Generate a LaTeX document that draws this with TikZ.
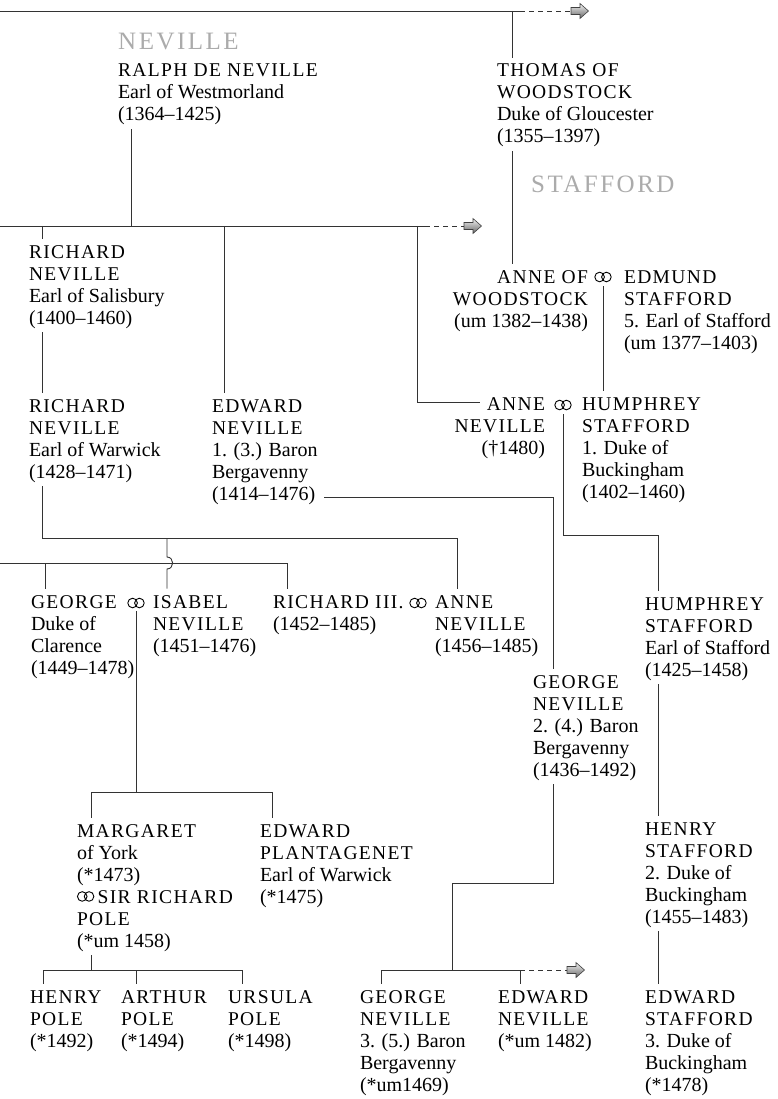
\documentclass[tikz,border=0pt]{standalone}
\usepackage{fontspec}
\setmainfont{Liberation Serif}
\newfontfamily\namefont[LetterSpace=7]{Liberation Serif}
\newfontfamily\housefont[LetterSpace=10]{Liberation Serif}

\newcommand\nm[1]{{\namefont\fontsize{19.5}{22}\selectfont\strut #1}}
\newcommand\ringsym{\tikz\draw[line width=.9pt] (0,0) circle (4.8pt) (6.8pt,0) circle (4.8pt);}
\newcommand\fatarrow[1]{\shade[arrowfill] (#1) ++(0,-3.5) -- ++(9,0) -- ++(0,-4) -- ++(8.5,7.5)
  -- ++(-8.5,7.5) -- ++(0,-4) -- ++(-9,0) -- cycle;}

\tikzset{
  person/.style={anchor=north west, align=left, inner xsep=0pt, inner ysep=4pt,
    outer sep=0pt, yshift=19.4pt, font=\fontsize{20}{22}\selectfont, text=black},
  personr/.style={person, anchor=north east, align=right},
  house/.style={anchor=base west, inner sep=0pt, font=\housefont\fontsize{25}{28}\selectfont, text=black!33},
  marr/.style={inner sep=0pt},
  line/.style={black!80, line width=0.9pt},
  ext/.style={line, dash pattern=on 5pt off 4pt},
  arrowfill/.style={top color=black!5, bottom color=black!60, draw=black!75, line width=0.6pt},
}

\begin{document}
\begin{tikzpicture}[x=1pt,y=-1pt]
\useasboundingbox (0,0) rectangle (778,1099);

\node[house] (neville) at (118,50) {NEVILLE};
\node[house] (stafford) at (531,193) {STAFFORD};

\node[person] (ralph) at (118,77) {\nm{RALPH DE NEVILLE}\\Earl of Westmorland\\(1364–1425)};
\node[person] (thomas) at (497,77) {\nm{THOMAS OF}\\\nm{WOODSTOCK}\\Duke of Gloucester\\(1355–1397)};
\node[person] (richS) at (29,258) {\nm{RICHARD}\\\nm{NEVILLE}\\Earl of Salisbury\\(1400–1460)};
\node[person] (richW) at (29,412) {\nm{RICHARD}\\\nm{NEVILLE}\\Earl of Warwick\\(1428–1471)};
\node[person] (edw1) at (212,412) {\nm{EDWARD}\\\nm{NEVILLE}\\1. (3.) Baron\\Bergavenny\\(1414–1476)};
\node[personr] (anneW) at (588,283) {\nm{ANNE OF}\\\nm{WOODSTOCK}\\(um 1382–1438)};
\node[person] (edmund) at (624,283) {\nm{EDMUND}\\\nm{STAFFORD}\\5. Earl of Stafford\\(um 1377–1403)};
\node[personr] (anneN) at (545,410) {\nm{ANNE}\\\nm{NEVILLE}\\(†1480)};
\node[person] (humph1) at (582,410) {\nm{HUMPHREY}\\\nm{STAFFORD}\\1. Duke of\\Buckingham\\(1402–1460)};
\node[person] (george) at (31,608) {\nm{GEORGE}\\Duke of\\Clarence\\(1449–1478)};
\node[person] (isabel) at (153,608) {\nm{ISABEL}\\\nm{NEVILLE}\\(1451–1476)};
\node[person] (rich3) at (273,608) {\nm{RICHARD III.}\\(1452–1485)};
\node[person] (anneN2) at (435,608) {\nm{ANNE}\\\nm{NEVILLE}\\(1456–1485)};
\node[person] (humph2) at (645,610) {\nm{HUMPHREY}\\\nm{STAFFORD}\\Earl of Stafford\\(1425–1458)};
\node[person] (georgeN2) at (533,688) {\nm{GEORGE}\\\nm{NEVILLE}\\2. (4.) Baron\\Bergavenny\\(1436–1492)};
\node[person] (margaret) at (77,837) {\nm{MARGARET}\\of York\\(*1473)\\\raisebox{1.3pt}{\ringsym}\,\nm{SIR RICHARD}\\\nm{POLE}\\(*um 1458)};
\node[person] (edwP) at (260,837) {\nm{EDWARD}\\\nm{PLANTAGENET}\\Earl of Warwick\\(*1475)};
\node[person] (henryS) at (645,835) {\nm{HENRY}\\\nm{STAFFORD}\\2. Duke of\\Buckingham\\(1455–1483)};
\node[person] (henryP) at (30,1003) {\nm{HENRY}\\\nm{POLE}\\(*1492)};
\node[person] (arthur) at (121,1003) {\nm{ARTHUR}\\\nm{POLE}\\(*1494)};
\node[person] (ursula) at (228,1003) {\nm{URSULA}\\\nm{POLE}\\(*1498)};
\node[person] (georgeN3) at (360,1003) {\nm{GEORGE}\\\nm{NEVILLE}\\3. (5.) Baron\\Bergavenny\\(*um1469)};
\node[person] (edwN) at (498,1003) {\nm{EDWARD}\\\nm{NEVILLE}\\(*um 1482)};
\node[person] (edwS) at (645,1003) {\nm{EDWARD}\\\nm{STAFFORD}\\3. Duke of\\Buckingham\\(*1478)};

\node[marr] (m1) at (603,277) {\ringsym};
\node[marr] (m2) at (563,405) {\ringsym};
\node[marr] (m3) at (136,603) {\ringsym};
\node[marr] (m4) at (418,603) {\ringsym};

\coordinate (arr1) at (571,11);
\coordinate (arr2) at (464,226);
\coordinate (arr3) at (567,970);
\fatarrow{arr1}
\fatarrow{arr2}
\fatarrow{arr3}

\coordinate (t0) at (0,11);
\coordinate (t1) at (520,11);
\coordinate (tT) at (512,11);
\coordinate (n0) at (0,226);
\coordinate (n1) at (425,226);
\coordinate (nR) at (131,226);
\coordinate (nA) at (42,226);
\coordinate (nE) at (224,226);
\coordinate (nN) at (417,226);
\coordinate (nN2) at (417,402);
\coordinate (nN3) at (480,402);
\coordinate (hb) at (563,535);
\coordinate (hc) at (658,535);
\coordinate (eb1) at (324,497);
\coordinate (eb2) at (553,497);
\coordinate (wb0) at (42,538);
\coordinate (wb1) at (457,538);
\coordinate (wI) at (167,538);
\coordinate (jmp1) at (167,557);
\coordinate (jmp2) at (167,569);
\coordinate (yb0) at (0,563);
\coordinate (yb1) at (287,563);
\coordinate (yG) at (45,563);
\coordinate (cb0) at (91,792);
\coordinate (cb1) at (272,792);
\coordinate (gb0) at (553,883);
\coordinate (gb1) at (452,883);
\coordinate (gb2) at (452,970);
\coordinate (gl) at (381,970);
\coordinate (gr) at (520,970);
\coordinate (pb) at (91,970);
\coordinate (pl) at (43,970);
\coordinate (pm) at (136,970);
\coordinate (pr) at (242,970);

\draw[line] (t0) -- (t1);
\draw[ext] (t1) -- (arr1);
\draw[line] (tT) -- (thomas.north -| tT);
\draw[line] (thomas.south -| tT) -- (anneW.north -| tT);

\draw[line] (ralph.south -| nR) -- (nR);
\draw[line] (n0) -- (n1);
\draw[ext] (n1) -- (arr2);
\draw[line] (nA) -- (richS.north -| nA);
\draw[line] (nE) -- (edw1.north -| nE);
\draw[line] (nN) -- (nN2) -- (nN3);

\draw[line, shorten <=4pt] (m1.south) -- (m1.south |- humph1.north);
\draw[line, shorten <=4pt] (m2.south) -- (hb) -- (hc) -- (humph2.north -| hc);
\draw[line] (eb1) -- (eb2) -- (georgeN2.north -| eb2);

\draw[line] (richS.south -| nA) -- (richW.north -| nA);
\draw[line] (richW.south -| wb0) -- (wb0) -- (wb1) -- (anneN2.north -| wb1);
\draw[line] (yb0) -- (yb1) -- (rich3.north -| yb1);
\draw[line] (yG) -- (george.north -| yG);
\draw[line] (wI) -- (jmp1) .. controls (174.5,557) and (174.5,569) .. (jmp2) -- (isabel.north -| wI);

\draw[line, shorten <=3pt] (m3.south) -- (m3.south |- cb0);
\draw[line] (margaret.north -| cb0) -- (cb0) -- (cb1) -- (edwP.north -| cb1);

\draw[line] (georgeN2.south -| gb0) -- (gb0) -- (gb1) -- (gb2);
\draw[line] (georgeN3.north -| gl) -- (gl) -- (gr) -- (edwN.north -| gr);
\draw[ext] (gr) -- (arr3);

\draw[line] (humph2.south -| hc) -- (henryS.north -| hc);
\draw[line] (henryS.south -| hc) -- (edwS.north -| hc);

\draw[line] (margaret.south -| pb) -- (pb);
\draw[line] (henryP.north -| pl) -- (pl) -- (pr) -- (ursula.north -| pr);
\draw[line] (pm) -- (arthur.north -| pm);
\end{tikzpicture}
\end{document}
